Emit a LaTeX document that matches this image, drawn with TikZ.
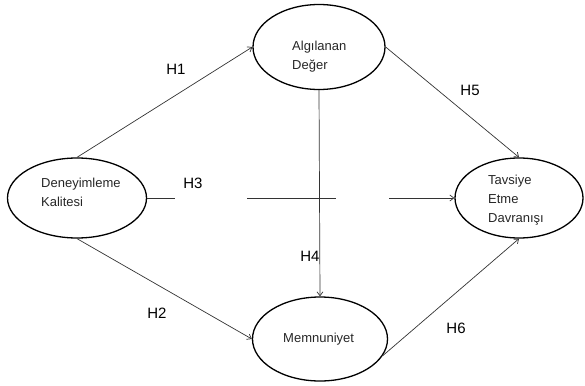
\documentclass[tikz,border=0pt]{standalone}
\usepackage{fontspec}
\setmainfont{Liberation Sans}
\usetikzlibrary{shapes.geometric,arrows.meta}
\begin{document}
\begin{tikzpicture}[x=1pt,y=-1pt,
  construct/.style={ellipse,draw=black,line width=1.3pt,inner sep=0pt},
  ctext/.style={anchor=west,align=left,inner sep=0pt,font=\fontsize{13}{19}\selectfont,text=black!85},
  hlabel/.style={inner sep=0pt,font=\fontsize{15}{15}\selectfont},
  link/.style={draw=black!80,line width=0.7pt},
  arrowlink/.style={link,-{Straight Barb[length=4pt,width=6pt]}}]
  \useasboundingbox (0,0) rectangle (585,385);

  % constructs
  \node[construct,minimum width=139pt,minimum height=80pt] (L) at (77,198) {};
  \node[construct,minimum width=132pt,minimum height=85pt] (A) at (319,47) {};
  \node[construct,minimum width=128pt,minimum height=80pt] (T) at (519,198) {};
  \node[construct,minimum width=135pt,minimum height=84pt] (M) at (320,339) {};

  % construct names
  \node[ctext] (Ltxt) at (41,192) {Deneyimleme\\Kalitesi};
  \node[ctext] (Atxt) at (292,57) {Algılanan\\Değer};
  \node[ctext] (Ttxt) at (488,200) {Tavsiye\\Etme\\Davranışı};
  \node[ctext] (Mtxt) at (283,339) {Memnuniyet};

  % hypotheses paths
  \draw[arrowlink] (L.north) -- (A.west);
  \draw[arrowlink] (L.south) -- (M.west);
  \draw[arrowlink] (A.south) -- (M.north);
  \draw[arrowlink] (A.east) -- (T.north);
  \draw[arrowlink] (M.-15) -- (T.south);

  % H3 drawn as a broken horizontal path
  \coordinate (h3a) at (175,198);
  \coordinate (h3b) at (247,198);
  \coordinate (h3c) at (336,198);
  \coordinate (h3d) at (389,198);
  \draw[link] (L.east) -- (h3a);
  \draw[link] (h3b) -- (h3c);
  \draw[arrowlink] (h3d) -- (T.west);

  % hypothesis labels
  \node[hlabel] (H1) at (176,69) {H1};
  \node[hlabel] (H2) at (157,313) {H2};
  \node[hlabel] (H3) at (193,183) {H3};
  \node[hlabel] (H4) at (310,256) {H4};
  \node[hlabel] (H5) at (470,90) {H5};
  \node[hlabel] (H6) at (456,328) {H6};
\end{tikzpicture}
\end{document}
